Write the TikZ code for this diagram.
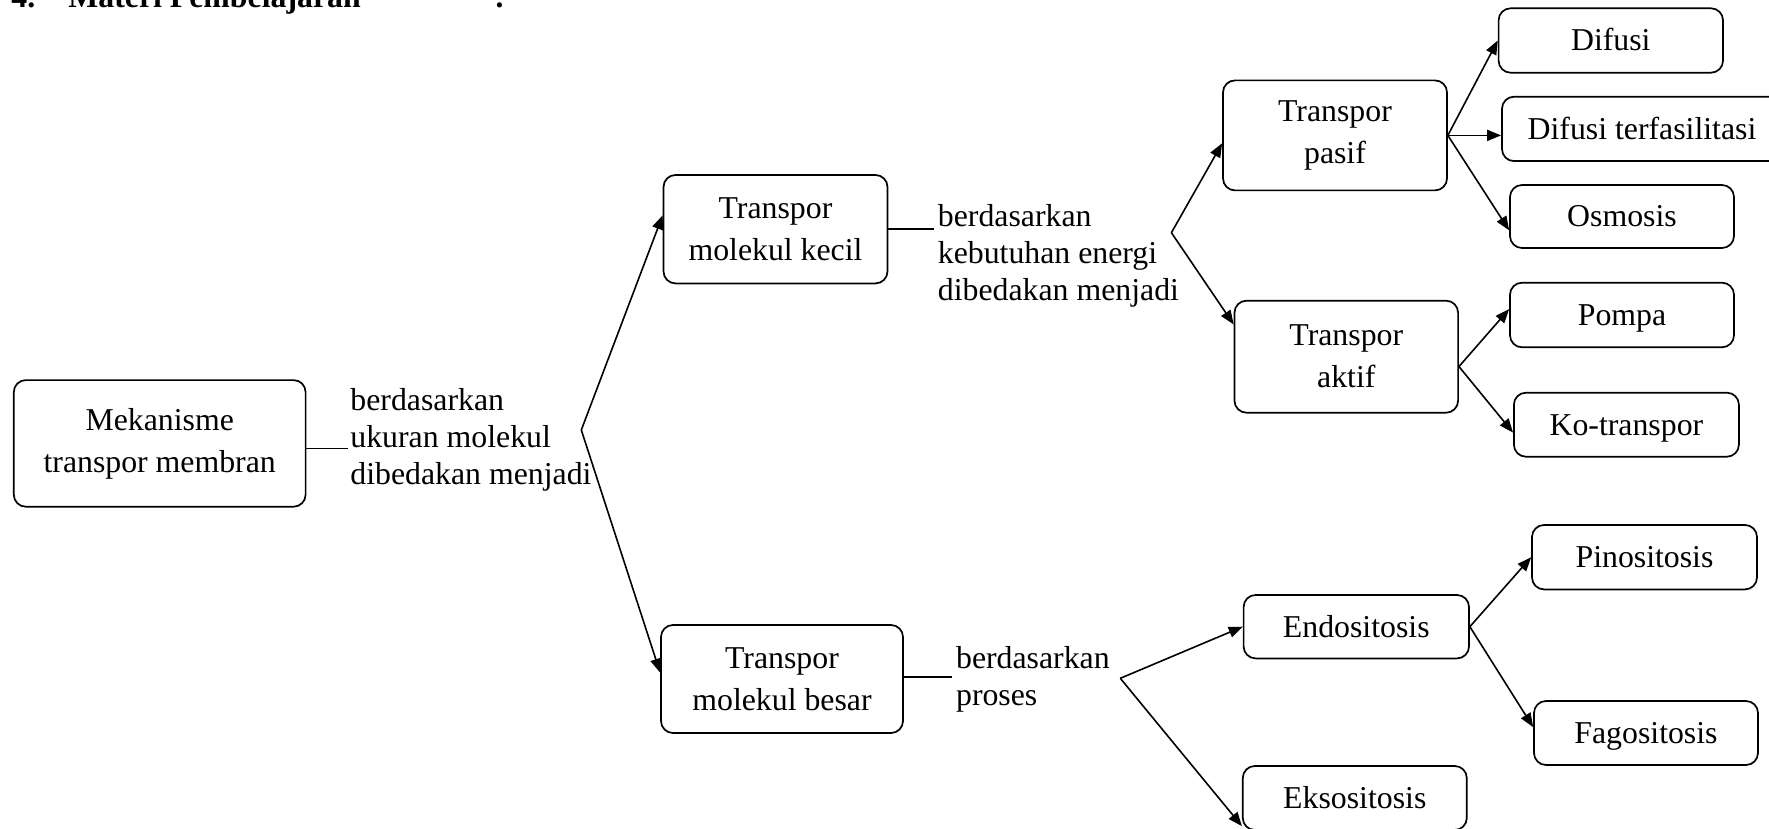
\documentclass[tikz,border=0pt]{standalone}
\usepackage{fontspec}
\setmainfont{Liberation Serif}
\usetikzlibrary{arrows.meta,calc}
\newcommand\boxfont{\fontsize{15.9}{21}\selectfont}
\newcommand\txtfont{\fontsize{15.9}{18.6}\selectfont}
\tikzset{
  box/.style={draw, line width=0.85pt, rounded corners=6pt, align=center, inner sep=0pt, font=\boxfont},
  onebox/.style={box, text height=12pt, text depth=1.5pt},
  freetext/.style={align=left, inner sep=0pt, anchor=west, font=\txtfont},
  headtext/.style={anchor=base west, inner sep=0pt, font=\fontsize{15.9}{18}\selectfont\bfseries},
  link/.style={line width=0.8pt},
  arr/.style={line width=0.8pt, -{Triangle[length=7pt,width=5.5pt]}},
}
\begin{document}
\begin{tikzpicture}[x=0.5pt,y=-0.5pt]
\useasboundingbox (0,0) rectangle (1769,829);
\clip (0,0) rectangle (1769,829);
% heading (cut off at top, as in the reference)
\node[headtext] (h1) at (11,7.5) {4.};
\node[headtext] (h2) at (68,7.5) {Materi Pembelajaran};
\node[headtext] (h3) at (494,7.5) {:};
% boxes
\node[box, minimum width=145.9pt, minimum height=63.3pt] (mek) at (159.7,443.4) {Mekanisme\\transpor membran};
\node[box, minimum width=112pt, minimum height=54.2pt] (kecil) at (775.5,229.2) {Transpor\\molekul kecil};
\node[box, minimum width=121pt, minimum height=54pt] (besar) at (782,679) {Transpor\\molekul besar};
\node[box, minimum width=112pt, minimum height=55pt] (pasif) at (1335,135.4) {Transpor\\pasif};
\node[box, minimum width=111.8pt, minimum height=56pt] (aktif) at (1346.3,356.7) {Transpor\\aktif};
\node[onebox, minimum width=112.2pt, minimum height=32.2pt] (difusi) at (1610.8,40.5) {Difusi};
\node[onebox, minimum width=140pt, minimum height=32.2pt] (difter) at (1642,128.9) {Difusi terfasilitasi};
\node[onebox, minimum width=112pt, minimum height=31.5pt] (osmosis) at (1622,216.5) {Osmosis};
\node[onebox, minimum width=112pt, minimum height=32.3pt] (pompa) at (1622,315) {Pompa};
\node[onebox, minimum width=112.5pt, minimum height=32pt] (ko) at (1626.4,424.7) {Ko-transpor};
\node[onebox, minimum width=112.5pt, minimum height=32.2pt] (pino) at (1644.5,557.2) {Pinositosis};
\node[onebox, minimum width=112pt, minimum height=32pt] (fago) at (1646,733) {Fagositosis};
\node[onebox, minimum width=112.7pt, minimum height=31.7pt] (endo) at (1356.3,626.7) {Endositosis};
\node[onebox, minimum width=112pt, minimum height=32pt] (ekso) at (1354.8,798) {Eksositosis};
% free texts
\node[freetext] (t1) at (350,440) {berdasarkan\\ukuran molekul\\dibedakan menjadi};
\node[freetext] (t2) at (937.5,256) {berdasarkan\\kebutuhan energi\\dibedakan menjadi};
\node[freetext] (t3) at (955.7,679) {berdasarkan\\proses};
% junction coordinates
\coordinate (c1) at (348,448.3);
\coordinate (v1) at (581.3,430);
\coordinate (c2) at (934,229.2);
\coordinate (v2) at (1171.4,232.7);
\coordinate (c3) at (952,676.7);
\coordinate (v3) at (1120.3,678.3);
% connectors
\draw[link] (mek.east |- c1) -- (c1);
\draw[arr] (v1) -- (kecil.173);
\draw[arr] (v1) -- (besar.177);
\draw[link] (kecil.east) -- (c2);
\draw[arr] (v2) -- (pasif.184);
\draw[arr] (v2) -- (aktif.164);
\draw[link] (besar.east |- c3) -- (c3);
\draw[arr] (v3) -- (endo.west);
\draw[arr] (v3) -- (ekso.194);
\draw[arr] (pasif.east) -- (difusi.west);
\draw[arr] (pasif.east) -- (difter.west |- pasif.east);
\draw[arr] (pasif.east) -- (osmosis.187);
\draw[arr] (aktif.-5) -- (pompa.177);
\draw[arr] (aktif.-5) -- (ko.184);
\draw[arr] (endo.east) -- (pino.west);
\draw[arr] (endo.east) -- (fago.177);
\end{tikzpicture}
\end{document}
